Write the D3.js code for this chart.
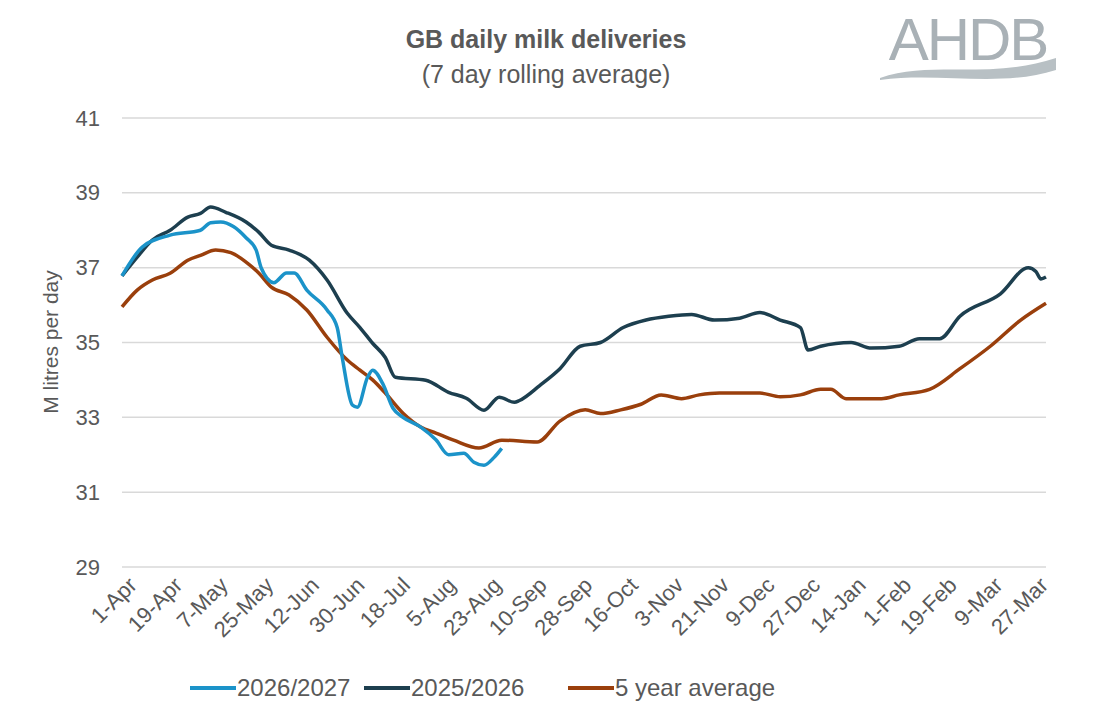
<!DOCTYPE html>
<html><head><meta charset="utf-8">
<script src="https://cdn.jsdelivr.net/npm/d3@7"></script>
<style>body{margin:0;background:#fff;font-family:Arial,"Liberation Sans",sans-serif}</style>
</head><body><svg id="c" width="1101" height="710"></svg>
<script>
// day index from 1-Apr, value in M litres
var blueDays = [0,8,19,31,35,39,44,49,53,55,60,65,68,73,81,85,87,91,93,97,99,103,107,111,118,124,129,135,139,143,147,150];
var blueVals = [36.78,37.55,37.87,38.0,38.2,38.22,38.1,37.8,37.47,36.99,36.6,36.86,36.86,36.4,35.87,35.4,34.6,33.33,33.27,34.07,34.26,33.9,33.25,33.0,32.74,32.4,32.0,32.04,31.8,31.72,31.93,32.17];

var darkDays = [0,6,12,19,26,31,35,41,49,54,59,66,74,81,89,94,99,104,108,120,129,136,143,149,155,157,165,173,181,189,198,207,216,225,234,244,252,260,268,271,276,288,296,307,315,323,331,347,358,361,363,365];
var darkVals = [36.78,37.28,37.74,38.0,38.35,38.45,38.62,38.48,38.22,37.95,37.6,37.47,37.2,36.67,35.78,35.4,34.98,34.6,34.07,33.99,33.67,33.51,33.19,33.54,33.4,33.45,33.85,34.3,34.9,35.0,35.4,35.6,35.7,35.75,35.6,35.65,35.8,35.6,35.4,34.8,34.9,35.0,34.85,34.9,35.1,35.1,35.7,36.3,37.0,36.9,36.7,36.75];

var avgDays = [0,6,12,19,26,31,37,43,49,54,59,66,73,81,89,94,99,104,111,118,124,131,141,150,164,173,183,189,197,205,213,221,228,236,252,260,268,276,280,286,300,307,319,331,343,355,365];
var avgVals = [35.95,36.4,36.67,36.85,37.2,37.33,37.47,37.4,37.15,36.86,36.48,36.27,35.87,35.14,34.53,34.26,34.0,33.65,33.11,32.74,32.58,32.39,32.18,32.39,32.34,32.9,33.2,33.1,33.2,33.35,33.6,33.5,33.6,33.65,33.65,33.55,33.6,33.75,33.75,33.5,33.5,33.6,33.75,34.3,34.9,35.6,36.05];

var yTicks = [29,31,33,35,37,39,41];
var xTickDays = d3.range(0, 365, 18);
var seriesNames = ["2026/2027","2025/2026","5 year average"];
var seriesColors = ["#1b93c9","#1d3f4f","#9a3f0c"];

var svg = d3.select("#c");
var x = d3.scaleLinear().domain([0,365]).range([122,1046]);
var y = d3.scaleLinear().domain([29,41]).range([567,118]);
var start = Date.UTC(2025,3,1);
var fmt = d3.utcFormat("%-d-%b");

// gridlines
svg.append("g").selectAll("line").data(yTicks).join("line")
  .attr("x1",122).attr("x2",1046).attr("y1",d=>y(d)).attr("y2",d=>y(d))
  .attr("stroke","#d9d9d9").attr("stroke-width",1.5);

var ya = svg.append("g").attr("transform","translate(122,0)")
  .call(d3.axisLeft(y).tickValues(yTicks).tickSize(0).tickPadding(22));
ya.select(".domain").remove();
ya.selectAll("text").attr("font-size",22).attr("fill","#595959").attr("font-family","Arial,'Liberation Sans',sans-serif");

var xa = svg.append("g").attr("transform","translate(0,567)")
  .call(d3.axisBottom(x).tickValues(xTickDays).tickSize(0).tickFormat(d=>fmt(new Date(start+d*864e5))));
xa.select(".domain").remove();
xa.selectAll("text").attr("font-size",22).attr("fill","#595959")
  .attr("font-family","Arial,'Liberation Sans',sans-serif")
  .attr("text-anchor","end").attr("dy","0.35em")
  .attr("transform","translate(8,12) rotate(-45)");

var line = d3.line().x(d=>x(d[0])).y(d=>y(d[1])).curve(d3.curveMonotoneX);
var series = [d3.zip(avgDays,avgVals), d3.zip(darkDays,darkVals), d3.zip(blueDays,blueVals)];
var cols = [seriesColors[2], seriesColors[1], seriesColors[0]];
series.forEach(function(s,i){
  svg.append("path").attr("d",line(s)).attr("fill","none")
    .attr("stroke",cols[i]).attr("stroke-width",3.5).attr("stroke-linejoin","round");
});

// titles
svg.append("text").attr("x",546).attr("y",48).attr("text-anchor","middle")
  .attr("font-size",25).attr("font-weight","bold").attr("fill","#595959").text("GB daily milk deliveries");
svg.append("text").attr("x",546).attr("y",83).attr("text-anchor","middle")
  .attr("font-size",25).attr("fill","#595959").text("(7 day rolling average)");
svg.append("text").attr("transform","translate(58,342) rotate(-90)").attr("text-anchor","middle")
  .attr("font-size",21).attr("fill","#595959").text("M litres per day");

// legend
var lg = svg.append("g");
var lx = [190, 364, 568];
seriesNames.forEach(function(n,i){
  lg.append("line").attr("x1",lx[i]).attr("x2",lx[i]+46).attr("y1",688).attr("y2",688)
    .attr("stroke",seriesColors[i]).attr("stroke-width",4);
  lg.append("text").attr("x",lx[i]+47).attr("y",696).attr("font-size",24).attr("fill","#595959").text(n);
});

// logo
svg.append("text").attr("x",968).attr("y",60).attr("text-anchor","middle")
  .attr("font-size",60).attr("fill","#a9b1b6").attr("letter-spacing","-2").text("AHDB");
svg.append("path").attr("d","M880,78 C930,60 990,80 1056,58 L1056,70 C1000,88 940,72 880,80 Z")
  .attr("fill","#b8c0c4");
</script></body></html>
